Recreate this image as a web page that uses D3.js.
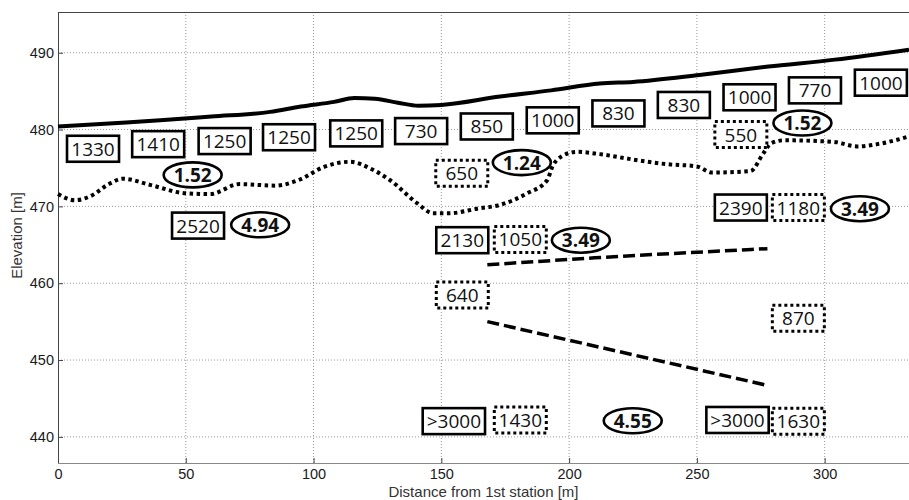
<!DOCTYPE html>
<html>
<head>
<meta charset="utf-8">
<script src="https://cdn.jsdelivr.net/npm/d3@7"></script>
<style>
  body { margin: 0; background: #fff; }
  .tick-label { font-family: "Liberation Sans", Arial, sans-serif; font-size: 14.5px; fill: #1a1a1a; }
  .axis-title { font-family: "Liberation Sans", Arial, sans-serif; font-size: 15px; fill: #333; }
  .box-text { font-family: "Open Sans", sans-serif; font-size: 19px; fill: #111; }
  .ell-text { font-family: "Open Sans", sans-serif; font-size: 19px; font-weight: bold; fill: #111; }
</style>
</head>
<body>
<div id="chart"></div>
<script>
// ground surface (solid)
const surfaceX = [0, 20, 40, 60, 83, 95, 108, 116, 124, 133, 141, 150, 173, 193, 212, 225, 251, 278, 304, 333];
const surfaceZ = [480.4, 480.8, 481.2, 481.7, 482.3, 483.0, 483.6, 484.1, 484.0, 483.5, 483.1, 483.2, 484.3, 485.1, 486.0, 486.2, 487.1, 488.2, 489.1, 490.4];

// first interface (dotted)
const layerX = [0, 6.7, 12.5, 20.4, 25.4, 36, 50, 59.5, 71, 85, 94.7, 103.8, 114.3, 123, 130, 140.6, 146.8, 153, 164, 173, 183.6, 191.4, 193.5, 197, 203, 212, 225, 238, 250, 256, 271, 276, 279, 284, 303.5, 312.8, 320.6, 333];
const layerZ = [471.6, 470.8, 471.3, 473.0, 473.6, 472.8, 471.7, 471.6, 472.9, 472.7, 473.5, 475.1, 475.8, 474.8, 473.4, 470.4, 469.1, 469.1, 469.7, 470.2, 471.7, 473.4, 475.2, 476.5, 477.1, 476.8, 476.1, 475.5, 475.2, 474.4, 474.6, 476.9, 478.2, 478.6, 478.4, 477.8, 478.1, 479.1];

// deeper interfaces (dashed)
const upperDashX = [168, 210, 277.6];
const upperDashZ = [462.4, 463.3, 464.5];
const lowerDashX = [168, 277.6];
const lowerDashZ = [455.0, 446.7];

// velocity labels, solid boxes
const solidText = ["1330", "1410", "1250", "1250", "1250", "730", "850", "1000", "830", "830", "1000", "770", "1000", "2520", "2130", "2390", ">3000", ">3000"];
const solidX = [13.7, 39.2, 65.2, 90.4, 116.7, 142.1, 167.8, 193.6, 219.3, 244.9, 270.6, 296.2, 322, 54.8, 158.2, 267.2, 154.9, 265.9];
const solidZ = [477.5, 478.1, 478.5, 479.0, 479.5, 479.8, 480.4, 481.2, 482.1, 483.2, 484.2, 485.1, 486.1, 467.5, 465.6, 469.85, 442.05, 442.2];

// velocity labels, dotted boxes
const dottedText = ["650", "550", "1050", "640", "1180", "870", "1430", "1630"];
const dottedX = [158, 267.2, 180.9, 158.2, 289.7, 289.7, 180.9, 289.7];
const dottedZ = [474.3, 479.35, 465.7, 458.45, 469.85, 455.45, 442.2, 442.05];

// ratio labels (ellipses)
const ellipseText = ["1.52", "4.94", "1.24", "1.52", "3.49", "3.49", "4.55"];
const ellipseX = [52.7, 79.1, 181.5, 291.3, 204.6, 313.8, 224.9];
const ellipseZ = [474.1, 467.6, 475.7, 480.85, 465.6, 469.7, 442.1];

const xTicks = [0, 50, 100, 150, 200, 250, 300];
const yTicks = [440, 450, 460, 470, 480, 490];

const W = 909, H = 500;
const margin = { left: 58, top: 12, bottom: 463, right: 909 };

const svg = d3.select("#chart").append("svg")
  .attr("width", W)
  .attr("height", H);

const x = d3.scaleLinear().domain([0, 333]).range([margin.left, margin.right]);
const y = d3.scaleLinear().domain([436.6, 495.3]).range([margin.bottom, margin.top]);

// grid
svg.append("g").selectAll("line")
  .data(xTicks.slice(1))
  .enter().append("line")
  .attr("x1", d => x(d)).attr("x2", d => x(d))
  .attr("y1", margin.top).attr("y2", margin.bottom)
  .attr("stroke", "#999").attr("stroke-width", 1)
  .attr("stroke-dasharray", "1,2");

svg.append("g").selectAll("line")
  .data(yTicks)
  .enter().append("line")
  .attr("x1", margin.left).attr("x2", margin.right)
  .attr("y1", d => y(d)).attr("y2", d => y(d))
  .attr("stroke", "#999").attr("stroke-width", 1)
  .attr("stroke-dasharray", "1,2");

// axes
const xAxis = svg.append("g")
  .attr("transform", `translate(0,${margin.bottom})`)
  .call(d3.axisBottom(x).tickValues(xTicks).tickSizeInner(-5).tickSizeOuter(0).tickPadding(6));
const yAxis = svg.append("g")
  .attr("transform", `translate(${margin.left},0)`)
  .call(d3.axisLeft(y).tickValues(yTicks).tickSizeInner(-5).tickSizeOuter(0).tickPadding(4));

[xAxis, yAxis].forEach(g => {
  g.select(".domain").attr("stroke", "#444");
  g.selectAll(".tick line").attr("stroke", "#444");
  g.selectAll(".tick text").attr("class", "tick-label").attr("fill", null);
});
xAxis.select(".domain").attr("stroke", "#888");

// top border
svg.append("line")
  .attr("x1", margin.left).attr("x2", margin.right)
  .attr("y1", margin.top + 0.5).attr("y2", margin.top + 0.5)
  .attr("stroke", "#444");

svg.append("text")
  .attr("class", "axis-title")
  .attr("x", (margin.left + margin.right) / 2)
  .attr("y", 497)
  .attr("text-anchor", "middle")
  .text("Distance from 1st station [m]");

svg.append("text")
  .attr("class", "axis-title")
  .attr("transform", `translate(21.5,${(margin.top + margin.bottom) / 2 - 2}) rotate(-90)`)
  .attr("text-anchor", "middle")
  .text("Elevation [m]");

// interface lines
const line = d3.line().x(d => x(d[0])).y(d => y(d[1])).curve(d3.curveMonotoneX);

svg.append("path")
  .datum(surfaceX.map((d, i) => [d, surfaceZ[i]]))
  .attr("d", line)
  .attr("fill", "none")
  .attr("stroke", "#000")
  .attr("stroke-width", 4);

svg.append("path")
  .datum(layerX.map((d, i) => [d, layerZ[i]]))
  .attr("d", line)
  .attr("fill", "none")
  .attr("stroke", "#000")
  .attr("stroke-width", 4)
  .attr("stroke-dasharray", "3.5,3.5");

[[upperDashX, upperDashZ], [lowerDashX, lowerDashZ]].forEach(([xs, zs]) => {
  svg.append("path")
    .datum(xs.map((d, i) => [d, zs[i]]))
    .attr("d", line)
    .attr("fill", "none")
    .attr("stroke", "#000")
    .attr("stroke-width", 3.5)
    .attr("stroke-dasharray", "12,5");
});

// boxed labels
function addBoxes(texts, xs, zs, dash) {
  texts.forEach((t, i) => {
    const g = svg.append("g")
      .attr("transform", `translate(${x(xs[i])},${y(zs[i])})`);
    const rect = g.append("rect");
    const txt = g.append("text")
      .attr("class", "box-text")
      .attr("text-anchor", "middle")
      .attr("y", 7)
      .text(t);
    const w = Math.max(52, txt.node().getComputedTextLength() + 8);
    rect.attr("x", -w / 2).attr("y", -13)
      .attr("width", w).attr("height", 26)
      .attr("fill", "#fff")
      .attr("stroke", "#000")
      .attr("stroke-width", dash ? 3 : 2.6)
      .attr("stroke-dasharray", dash ? "3,3" : null);
  });
}

addBoxes(solidText, solidX, solidZ, false);
addBoxes(dottedText, dottedX, dottedZ, true);

ellipseText.forEach((t, i) => {
  const g = svg.append("g")
    .attr("transform", `translate(${x(ellipseX[i])},${y(ellipseZ[i])})`);
  g.append("ellipse")
    .attr("rx", 29).attr("ry", 12.5)
    .attr("fill", "#fff")
    .attr("stroke", "#000")
    .attr("stroke-width", 2.6);
  g.append("text")
    .attr("class", "ell-text")
    .attr("text-anchor", "middle")
    .attr("y", 7)
    .text(t);
});
</script>
</body>
</html>
